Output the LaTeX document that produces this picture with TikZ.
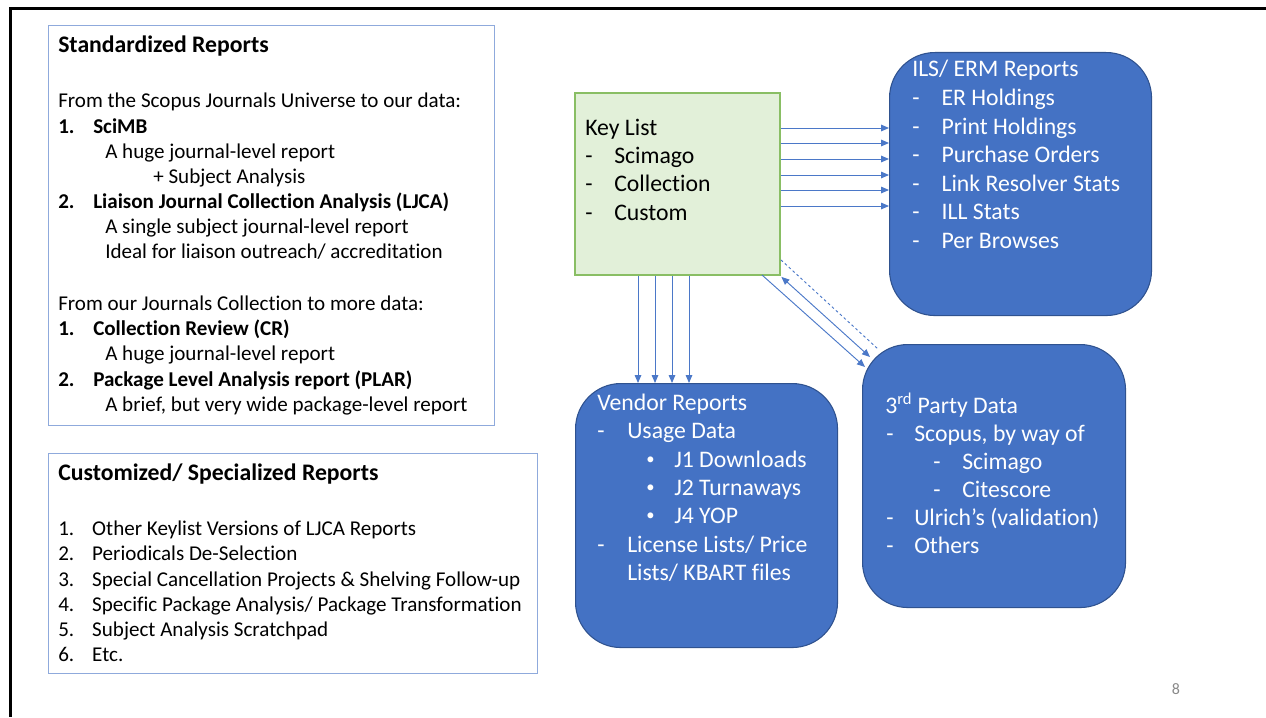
\documentclass[tikz,border=0pt]{standalone}
\usepackage{fontspec}
\setmainfont{Carlito}[Ligatures=NoCommon]
\usetikzlibrary{arrows.meta,calc}
\definecolor{boxblue}{RGB}{68,114,196}
\definecolor{boxedge}{RGB}{47,82,143}
\definecolor{lightedge}{RGB}{143,170,220}
\definecolor{keyfill}{RGB}{226,240,217}
\definecolor{keyedge}{RGB}{137,190,100}
\definecolor{arrblue}{RGB}{75,120,200}
\definecolor{pagegray}{RGB}{137,137,137}
\newcommand\rowlbl[2]{\makebox[#1][l]{#2}}
\newcommand\smbullet{\raisebox{0.12em}{\scalebox{0.7}{\textbullet}}}
\tikzset{
  panel/.style={draw=lightedge, line width=0.8pt, fill=white, anchor=north west, inner sep=0pt},
  keybox/.style={draw=keyedge, line width=1.4pt, fill=keyfill, anchor=north west, inner sep=0pt},
  bluebox/.style={draw=boxedge, line width=0.8pt, fill=boxblue, rounded corners=34pt, anchor=north west, inner sep=0pt},
  txt/.style={anchor=base west, inner sep=0pt, font=\fontsize{15.8}{19}\selectfont},
  btxt/.style={anchor=base west, inner sep=0pt, font=\fontsize{15.8}{19}\selectfont\bfseries},
  htxt/.style={anchor=base west, inner sep=0pt, font=\fontsize{17.8}{21}\selectfont\bfseries},
  ktxt/.style={anchor=base west, inner sep=0pt, font=\fontsize{17.8}{21}\selectfont},
  wtxt/.style={anchor=base west, inner sep=0pt, text=white, font=\fontsize{17.8}{21}\selectfont},
  arr/.style={draw=arrblue, line width=0.7pt, -{Triangle[length=6pt,width=5pt]}},
  darr/.style={draw=arrblue, line width=0.7pt, {Triangle[length=6pt,width=5pt]}-{Triangle[length=6pt,width=5pt]}},
  dashline/.style={draw=arrblue, line width=0.7pt, dash pattern=on 2pt off 2pt},
}
\begin{document}
\begin{tikzpicture}[x=0.75pt,y=-0.75pt]
\useasboundingbox (0,0) rectangle (1266,717);
% slide frame
\coordinate (fTL) at (10.5,9);
\coordinate (fTR) at (1266,9);
\coordinate (fBL) at (10.5,717);
\draw[line width=2.25pt, black] (fTR) -- (fTL) -- (fBL);

% ---------- Standardized Reports panel
\node[panel, minimum width=334.5pt, minimum height=300pt] (std) at (48,25) {};
\node[htxt] (s0) at (58,53) {Standardized Reports};
\node[txt] (s1) at (58,108) {From the Scopus Journals Universe to our data:};
\node[btxt] (s2) at (58,133) {\rowlbl{26.25pt}{1.}SciMB};
\node[txt] (s3) at (105,158) {A huge journal-level report};
\node[txt] (s4) at (153,183) {+ Subject Analysis};
\node[btxt] (s5) at (58,208) {\rowlbl{26.25pt}{2.}Liaison Journal Collection Analysis (LJCA)};
\node[txt] (s6) at (105,233) {A single subject journal-level report};
\node[txt] (s7) at (105,258.5) {Ideal for liaison outreach/ accreditation};
\node[txt] (s8) at (58,310) {From our Journals Collection to more data:};
\node[btxt] (s9) at (58,335.5) {\rowlbl{26.25pt}{1.}Collection Review (CR)};
\node[txt] (s10) at (105,360.5) {A huge journal-level report};
\node[btxt] (s11) at (58,386) {\rowlbl{26.25pt}{2.}Package Level Analysis report (PLAR)};
\node[txt] (s12) at (105,411) {A brief, but very wide package-level report};

% ---------- Customized panel
\node[panel, minimum width=366.75pt, minimum height=165pt] (cus) at (48,453) {};
\node[htxt] (c0) at (58,480) {Customized/ Specialized Reports};
\node[txt] (c1) at (58,535) {\rowlbl{25.5pt}{1.}Other Keylist Versions of LJCA Reports};
\node[txt] (c2) at (58,560.5) {\rowlbl{25.5pt}{2.}Periodicals De-Selection};
\node[txt] (c3) at (58,586) {\rowlbl{25.5pt}{3.}Special Cancellation Projects \& Shelving Follow-up};
\node[txt] (c4) at (58,611) {\rowlbl{25.5pt}{4.}Specific Package Analysis/ Package Transformation};
\node[txt] (c5) at (58,636) {\rowlbl{25.5pt}{5.}Subject Analysis Scratchpad};
\node[txt] (c6) at (58,661) {\rowlbl{25.5pt}{6.}Etc.};

% ---------- Key list
\node[keybox, minimum width=153.75pt, minimum height=136.5pt] (key) at (574,92) {};
\node[ktxt] (k0) at (585,135) {Key List};
\node[ktxt] (k1) at (585,163) {\rowlbl{21.75pt}{-}Scimago};
\node[ktxt] (k2) at (585,191.5) {\rowlbl{21.75pt}{-}Collection};
\node[ktxt] (k3) at (585,220) {\rowlbl{21.75pt}{-}Custom};

% ---------- ILS / ERM
\node[bluebox, minimum width=196.5pt, minimum height=197.25pt] (ils) at (889,52) {};
\node[wtxt] (i0) at (912,77) {ILS/ ERM Reports};
\node[wtxt] (i1) at (912,105.5) {\rowlbl{22pt}{-}ER Holdings};
\node[wtxt] (i2) at (912,134) {\rowlbl{22pt}{-}Print Holdings};
\node[wtxt] (i3) at (912,162.5) {\rowlbl{22pt}{-}Purchase Orders};
\node[wtxt] (i4) at (912,191) {\rowlbl{22pt}{-}Link Resolver Stats};
\node[wtxt] (i5) at (912,219.5) {\rowlbl{22pt}{-}ILL Stats};
\node[wtxt] (i6) at (912,248) {\rowlbl{22pt}{-}Per Browses};

% ---------- Vendor
\node[bluebox, minimum width=196.5pt, minimum height=198pt] (vendor) at (575,383) {};
\node[wtxt] (v0) at (597,410) {Vendor Reports};
\node[wtxt] (v1) at (597,438) {\rowlbl{22.5pt}{-}Usage Data};
\node[wtxt] (v2) at (646,467) {\rowlbl{21pt}{\smbullet}J1 Downloads};
\node[wtxt] (v3) at (646,495) {\rowlbl{21pt}{\smbullet}J2 Turnaways};
\node[wtxt] (v4) at (646,523) {\rowlbl{21pt}{\smbullet}J4 YOP};
\node[wtxt] (v5) at (597,552) {\rowlbl{22.5pt}{-}License Lists/ Price};
\node[wtxt] (v6) at (627,580) {Lists/ KBART files};

% ---------- 3rd party
\node[bluebox, minimum width=197.25pt, minimum height=197.25pt] (third) at (862,344) {};
\node[wtxt] (p0) at (885,413) {3\textsuperscript{rd} Party Data};
\node[wtxt] (p1) at (886,441) {\rowlbl{21pt}{-}Scopus, by way of};
\node[wtxt] (p2) at (933,469) {\rowlbl{21.75pt}{-}Scimago};
\node[wtxt] (p3) at (933,497) {\rowlbl{21.75pt}{-}Citescore};
\node[wtxt] (p4) at (886,525) {\rowlbl{21pt}{-}Ulrich’s (validation)};
\node[wtxt] (p5) at (886,553) {\rowlbl{21pt}{-}Others};

% page number
\node[anchor=base, inner sep=0pt, text=pagegray, font=\fontsize{12}{14}\selectfont] (pg) at (1176,694) {8};

% ---------- connectors
\foreach \yy in {128,143,159,175,190,206}
  \draw[arr] (key.north east |- 0,\yy) -- (ils.west |- 0,\yy);
\foreach \xx in {638,655,672,689}
  \draw[arr] (key.south -| \xx,0) -- (vendor.north -| \xx,0);
\draw[arr] ($(key.south east)+(-19,-1)$) -- ($(third.north west)+(3,23)$);
\draw[darr] ($(key.south east)+(0.5,1)$) -- ($(third.north west)+(8,13)$);
\draw[dashline] ($(key.south east)+(0,-16)$) -- ($(third.north west)+(16,5)$);
\end{tikzpicture}
\end{document}
